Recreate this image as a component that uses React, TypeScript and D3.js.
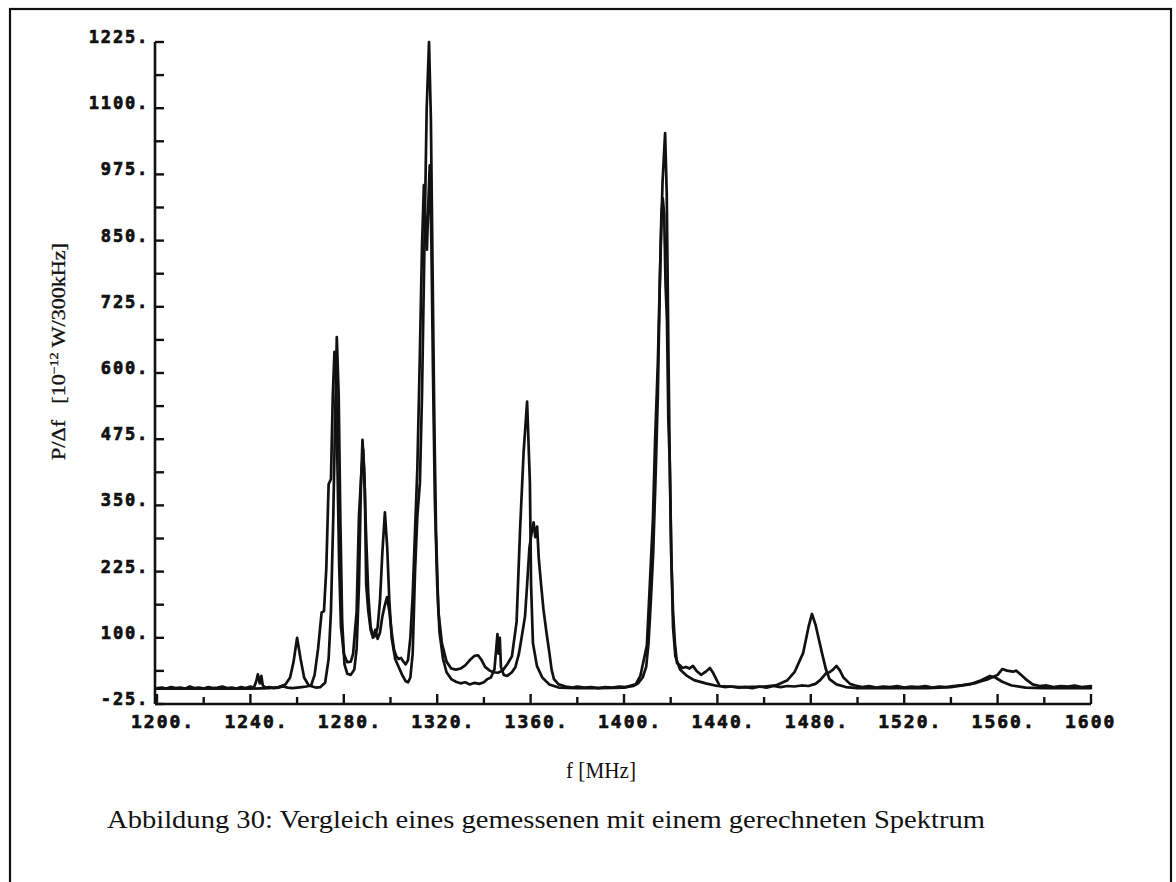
import React from "react";
import * as d3 from "d3";

// ---- data ----
const yTickValues = [-25, 100, 225, 350, 475, 600, 725, 850, 975, 1100, 1225];
const yTickLabels = ["-25.", "100.", "225.", "350.", "475.", "600.", "725.", "850.", "975.", "1100.", "1225."];
const yMinorValues = [37.5, 162.5, 287.5, 412.5, 537.5, 662.5, 787.5, 912.5, 1037.5, 1162.5];
const xTickValues = [1200, 1240, 1280, 1320, 1360, 1400, 1440, 1480, 1520, 1560, 1600];
const xTickLabels = ["1200.", "1240.", "1280.", "1320.", "1360.", "1400.", "1440.", "1480.", "1520.", "1560.", "1600"];
const xMinorValues = [1220, 1260, 1300, 1340, 1380, 1420, 1460, 1500, 1540, 1580];

// gerechnetes Spektrum (smooth)
const calcFreq = [1200, 1210, 1220, 1230, 1240, 1248, 1252, 1255, 1257, 1258.5, 1260, 1261.5, 1263, 1265, 1268, 1270, 1272, 1273.5, 1274.5, 1275.5, 1276.3, 1277, 1277.8, 1278.5, 1279.3, 1280.3, 1281.5, 1283, 1284.5, 1285.5, 1286.5, 1287.3, 1288, 1288.7, 1289.5, 1290.5, 1291.5, 1292.5, 1293.4, 1294.5, 1295.5, 1296.5, 1297.6, 1298.6, 1299.5, 1300.5, 1302, 1303.5, 1305, 1306.5, 1307.5, 1308.5, 1309.5, 1310.5, 1311.5, 1312.6, 1313.5, 1314.5, 1315.5, 1316.5, 1317.3, 1318, 1318.8, 1319.5, 1320.5, 1322, 1324, 1326, 1328, 1330, 1332, 1334, 1336, 1337.5, 1339, 1340.5, 1342.5, 1344, 1346, 1348, 1350, 1352, 1354, 1355.5, 1357, 1358.5, 1359.7, 1360.2, 1361, 1362.7, 1365, 1368, 1372, 1380, 1390, 1400, 1405, 1407, 1409.8, 1411, 1412.4, 1413.3, 1414.5, 1415.5, 1416.5, 1417.6, 1418.3, 1419, 1419.6, 1420.3, 1421, 1422, 1424, 1427, 1430, 1435, 1440, 1450, 1460, 1465, 1470, 1473, 1476.7, 1479, 1480.5, 1482, 1484.8, 1486.5, 1488, 1491, 1495, 1500, 1510, 1530, 1540, 1548, 1553, 1556.7, 1559, 1562, 1566, 1572, 1580, 1600];
const calcValues = [4, 4, 4, 4, 4, 5, 7, 12, 25, 55, 100, 60, 25, 10, 6, 7, 15, 60, 150, 330, 520, 668, 560, 330, 130, 50, 32, 30, 40, 80, 200, 380, 474, 420, 300, 180, 120, 105, 103, 120, 170, 260, 337, 270, 170, 100, 60, 45, 30, 18, 16, 25, 70, 224, 330, 393, 560, 830, 1100, 1225, 1080, 800, 500, 300, 150, 90, 55, 42, 40, 42, 48, 58, 66, 67, 58, 45, 38, 35, 34, 38, 50, 65, 130, 305, 450, 546, 393, 200, 90, 47, 25, 12, 6, 5, 5, 6, 12, 28, 86, 195, 325, 470, 620, 800, 960, 1053, 940, 650, 430, 250, 120, 65, 40, 28, 20, 14, 9, 7, 8, 10, 20, 35, 71, 120, 145, 125, 71, 40, 22, 12, 7, 5, 5, 5, 7, 12, 20, 28, 25, 17, 10, 6, 5, 5];

// gemessenes Spektrum (noisy)
const measFreq = [1200, 1202, 1204, 1206, 1208, 1210, 1212, 1214, 1216, 1218, 1220, 1222, 1224, 1226, 1228, 1230, 1232, 1234, 1236, 1238, 1240, 1241.5, 1242.5, 1243.2, 1244, 1244.7, 1245.3, 1246.5, 1248, 1250, 1252, 1254, 1256, 1258, 1260, 1262, 1264, 1266, 1267.5, 1269, 1270.5, 1271.5, 1272.5, 1273.5, 1274.5, 1275.3, 1276, 1276.7, 1277.3, 1278, 1278.8, 1280, 1281.5, 1283, 1284, 1285.5, 1286.5, 1287.5, 1288.3, 1289, 1289.6, 1290.5, 1291.5, 1292.5, 1293.5, 1294.5, 1295.5, 1296.5, 1297.5, 1298.5, 1299.5, 1300.5, 1301.5, 1302.5, 1303.5, 1304.5, 1305.5, 1306.5, 1307.5, 1308.5, 1309.5, 1310.5, 1311.5, 1312.5, 1313.5, 1314.3, 1315, 1315.6, 1316.2, 1316.8, 1317.5, 1318.2, 1319, 1320, 1321, 1322.5, 1324, 1326, 1328, 1330, 1332, 1334, 1336, 1338, 1340, 1341.5, 1343, 1344.5, 1345.3, 1345.8, 1346.3, 1346.8, 1347.3, 1348.5, 1350, 1352, 1353.5, 1355, 1356.5, 1357.6, 1358.5, 1359.5, 1360.5, 1361.3, 1362, 1362.8, 1363.5, 1364.5, 1365.5, 1366.8, 1368, 1369, 1370, 1372, 1375, 1378, 1380, 1383, 1386, 1389, 1392, 1395, 1398, 1401, 1404, 1406, 1408, 1409.5, 1410.5, 1411.5, 1412.5, 1413.5, 1414.5, 1415.3, 1416, 1416.6, 1417.2, 1417.8, 1418.4, 1419, 1419.6, 1420.2, 1421, 1421.8, 1422.7, 1424, 1425, 1426.5, 1428, 1429.5, 1431, 1433, 1435, 1436.8, 1438, 1439.5, 1441, 1443, 1446, 1449, 1452, 1455, 1458, 1461, 1464, 1467, 1470, 1473, 1476, 1479, 1482, 1484, 1486.5, 1488, 1489.5, 1491, 1492.5, 1494, 1496.8, 1499, 1502, 1505, 1508, 1511, 1514, 1517, 1520, 1523, 1526, 1529, 1532, 1535, 1538, 1541, 1544, 1547, 1550, 1553, 1556, 1558, 1560, 1562, 1564, 1566.6, 1568, 1570, 1572, 1575, 1578, 1581, 1584, 1587, 1590, 1593, 1596, 1600];
const measValues = [5, 6, 4, 7, 5, 6, 4, 8, 5, 6, 4, 7, 5, 6, 8, 5, 6, 4, 7, 5, 8, 6, 18, 31, 14, 28, 10, 6, 7, 5, 6, 8, 6, 5, 6, 7, 8, 10, 30, 80, 148, 150, 230, 390, 400, 560, 640, 600, 420, 240, 120, 70, 54, 55, 70, 150, 330, 410, 455, 380, 200, 150, 115, 100, 115, 98, 110, 140, 160, 177, 150, 110, 78, 65, 60, 62, 55, 50, 58, 100, 180, 300, 420, 620, 840, 955, 880, 833, 920, 992, 850, 600, 360, 200, 110, 60, 35, 22, 17, 14, 16, 12, 15, 13, 16, 22, 25, 40, 80, 107, 70, 100, 45, 30, 28, 35, 45, 70, 110, 140, 200, 270, 300, 318, 290, 310, 250, 200, 154, 110, 73, 40, 22, 12, 8, 6, 8, 6, 7, 5, 7, 6, 8, 7, 9, 14, 25, 45, 90, 170, 260, 400, 560, 760, 898, 930, 900, 766, 700, 510, 430, 260, 150, 90, 52, 48, 43, 45, 42, 47, 38, 30, 36, 43, 35, 22, 9, 7, 8, 6, 7, 5, 8, 6, 9, 7, 9, 8, 10, 9, 13, 20, 33, 35, 40, 47, 38, 25, 13, 10, 7, 9, 6, 8, 7, 9, 6, 8, 7, 9, 6, 8, 7, 9, 10, 12, 14, 18, 22, 26, 30, 41, 38, 36, 38, 30, 22, 12, 9, 10, 7, 9, 8, 10, 7, 9];

const W = 1176;
const H = 882;

export default function App() {
  const x = d3.scaleLinear().domain([1200, 1600]).range([157, 1091]);
  const y = d3.scaleLinear().domain([-25, 1225]).range([704, 42]);

  const line = d3
    .line<[number, number]>()
    .x((d) => x(d[0]))
    .y((d) => y(d[1]));

  const calcPts = calcFreq.map((f, i) => [f, calcValues[i]] as [number, number]);
  const measPts = measFreq.map((f, i) => [f, measValues[i]] as [number, number]);

  const ink = "#111";
  const tickFont = "DejaVu Sans Mono, monospace";
  const serif = "Liberation Serif, Times New Roman, serif";

  return (
    <svg
      width={W}
      height={H}
      viewBox={`0 0 ${W} ${H}`}
      style={{ position: "absolute", left: 0, top: 0, background: "#fff" }}
    >
      <rect x={0} y={0} width={W} height={H} fill="#fff" />
      {/* frame */}
      <rect x={10} y={9} width={1161} height={900} fill="none" stroke={ink} strokeWidth={2.2} />

      {/* curves */}
      <path d={line(calcPts) || ""} fill="none" stroke={ink} strokeWidth={2.7} strokeLinejoin="round" strokeLinecap="round" />
      <path d={line(measPts) || ""} fill="none" stroke={ink} strokeWidth={2.7} strokeLinejoin="round" strokeLinecap="round" />

      {/* y axis */}
      <line x1={x(1200) - 2} x2={x(1200) - 2} y1={y(1225)} y2={y(-25)} stroke={ink} strokeWidth={2.6} />
      {yTickValues.map((v) => (
        <line key={"ym" + v} x1={x(1200) - 2} x2={x(1200) + 7} y1={y(v)} y2={y(v)} stroke={ink} strokeWidth={2.4} />
      ))}
      {yMinorValues.map((v) => (
        <line key={"yn" + v} x1={x(1200) - 2} x2={x(1200) + 7} y1={y(v)} y2={y(v)} stroke={ink} strokeWidth={2.4} />
      ))}
      {yTickValues.map((v, i) => (
        <text
          key={"yl" + v}
          x={149}
          y={y(v) + 1}
          textAnchor="end"
          fontFamily={tickFont}
          fontWeight={700}
          fontSize={17}
          letterSpacing={1.8}
          fill={ink}
          stroke={ink}
          strokeWidth={0.7}
        >
          {yTickLabels[i]}
        </text>
      ))}

      {/* x axis */}
      <line x1={x(1200) - 2} x2={x(1600)} y1={y(-25)} y2={y(-25)} stroke={ink} strokeWidth={2.6} />
      {xTickValues.map((v) => (
        <line key={"xm" + v} x1={x(v)} x2={x(v)} y1={y(-25)} y2={y(-25) - 10} stroke={ink} strokeWidth={2.4} />
      ))}
      {xMinorValues.map((v) => (
        <line key={"xn" + v} x1={x(v)} x2={x(v)} y1={y(-25)} y2={y(-25) - 7} stroke={ink} strokeWidth={2.4} />
      ))}
      {xTickValues.map((v, i) => (
        <text
          key={"xl" + v}
          x={x(v) - 26}
          y={728}
          textAnchor="start"
          fontFamily={tickFont}
          fontWeight={700}
          fontSize={18}
          letterSpacing={2.0}
          fill={ink}
          stroke={ink}
          strokeWidth={0.7}
        >
          {xTickLabels[i]}
        </text>
      ))}

      {/* y axis title */}
      <g transform="translate(65, 460) rotate(-90)">
        <text x={0} y={0} fontFamily={serif} fontSize={19} fill={ink} stroke={ink} strokeWidth={0.3} textLength={217} lengthAdjust="spacingAndGlyphs">
          <tspan>P/Δf</tspan>
          <tspan dx={14}>[10</tspan>
          <tspan fontSize={12} dy={-7}>−12</tspan>
          <tspan dy={7}> W/300kHz]</tspan>
        </text>
      </g>

      {/* x axis title */}
      <text x={566} y={778} fontFamily={serif} fontSize={23} fill={ink} textLength={70} lengthAdjust="spacingAndGlyphs">
        f [MHz]
      </text>

      {/* caption */}
      <text x={107} y={828} fontFamily={serif} fontSize={26} fill={ink} textLength={878} lengthAdjust="spacingAndGlyphs">
        Abbildung 30:  Vergleich eines gemessenen mit einem gerechneten Spektrum
      </text>
    </svg>
  );
}
